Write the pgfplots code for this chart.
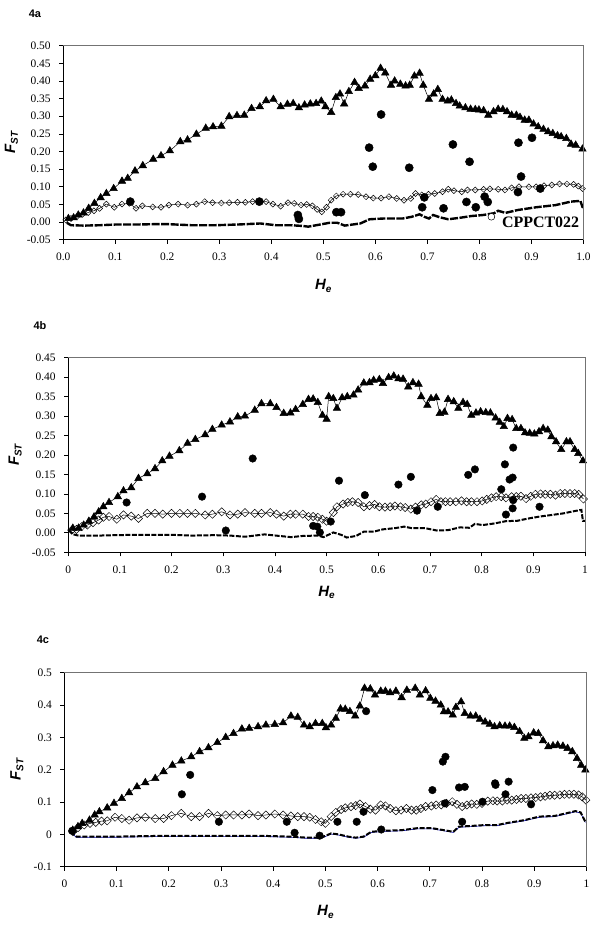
\documentclass[border=0pt]{standalone}
\usepackage{pgfplots}
\pgfplotsset{compat=1.18}
\usepackage{fontspec}
\setmainfont{Liberation Serif}
\newfontfamily\arial{Liberation Sans}
\newcommand{\FST}{{\arial\fontsize{15}{16}\selectfont\bfseries\itshape F\raisebox{-0.35ex}{\fontsize{10}{10}\selectfont ST}}}
\newcommand{\He}{{\arial\fontsize{15}{16}\selectfont\bfseries\itshape H\raisebox{-0.35ex}{\fontsize{10}{10}\selectfont e}}}
\pgfplotsset{
  fstaxis/.style={
    scale only axis, clip=false,
    xmin=0, xmax=1,
    axis x line*=bottom, axis y line*=left,
    axis line style={black, line width=0.7bp},
    tick align=outside, major tick length=4bp,
    tick style={black, line width=0.7bp},
    xtick={0,0.1,0.2,0.3,0.4,0.5,0.6,0.7,0.8,0.9,1},
    ticklabel style={font=\fontsize{11.5}{12}\selectfont},
    xticklabel style={yshift=-6bp},
    yticklabel style={xshift=-5bp},
    xlabel={\He}, ylabel={\FST},
    after end axis/.code={\draw[black!55, line width=0.8bp] (rel axis cs:0,1) -- (rel axis cs:1,1) -- (rel axis cs:1,0);},
  },
  tri/.style={black, line width=0.5bp, mark=triangle*, mark size=4.3bp, mark options={solid, fill=black}},
  dia/.style={black, line width=0.5bp, mark=square, mark options={solid, rotate=45, fill=white, line width=0.5bp}},
  low/.style={black, line width=2bp, dash pattern=on 8bp off 1.5bp},
  dots/.style={only marks, mark=*, mark size=4.1bp, mark options={fill=black, draw=black}},
}
\begin{document}
\begin{tikzpicture}
\path[use as bounding box] (0,0) rectangle (600bp,-925bp);
\node[font=\arial\fontsize{11}{12}\selectfont\bfseries] at (35bp,-14bp) {4a};
\node[font=\arial\fontsize{11}{12}\selectfont\bfseries] at (40bp,-326bp) {4b};
\node[font=\arial\fontsize{11}{12}\selectfont\bfseries] at (43bp,-640bp) {4c};

% ---------------- 4a ----------------
\begin{axis}[fstaxis, at={(63.2bp,-239.7bp)}, anchor=south west,
  width=520.3bp, height=194bp, ymin=-0.05, ymax=0.5,
  ytick={-0.05,0,0.05,0.1,0.15,0.2,0.25,0.3,0.35,0.4,0.45,0.5},
  yticklabels={-0.05,0.00,0.05,0.10,0.15,0.20,0.25,0.30,0.35,0.40,0.45,0.50},
  xticklabels={0.0,0.1,0.2,0.3,0.4,0.5,0.6,0.7,0.8,0.9,1.0},
  xlabel style={at={([yshift=-46bp]axis description cs:0.5,0)}, anchor=center},
  ylabel style={at={([xshift=-51.7bp]axis description cs:0,0.5)}, anchor=center}]
\addplot[low, line width=2.4bp] coordinates {(0.007,-0.002)(0.015,-0.009)(0.04,-0.010)(0.07,-0.009)(0.10,-0.007)(0.122,-0.007)(0.14,-0.007)(0.173,-0.006)(0.203,-0.006)(0.247,-0.009)(0.291,-0.009)(0.335,-0.007)(0.379,-0.004)(0.409,-0.009)(0.438,-0.009)(0.46,-0.011)(0.471,-0.013)(0.49,-0.008)(0.512,-0.002)(0.527,-0.002)(0.541,-0.010)(0.571,-0.004)(0.589,0.008)(0.615,0.010)(0.652,0.010)(0.67,0.015)(0.685,0.022)(0.694,0.015)(0.703,0.010)(0.711,0.020)(0.725,0.013)(0.74,0.008)(0.762,0.012)(0.784,0.017)(0.807,0.020)(0.828,0.025)(0.836,0.032)(0.85,0.026)(0.873,0.034)(0.909,0.042)(0.946,0.048)(0.976,0.058)(0.994,0.060)(0.998,0.043)(1.0,0.042)};
\addplot[dia, mark size=2.1bp] coordinates {(0.005,0.006)(0.015,0.010)(0.026,0.015)(0.037,0.022)(0.048,0.027)(0.059,0.032)(0.070,0.039)(0.083,0.051)(0.098,0.042)(0.113,0.051)(0.127,0.053)(0.140,0.039)(0.152,0.046)(0.172,0.043)(0.188,0.042)(0.203,0.048)(0.221,0.051)(0.239,0.048)(0.256,0.051)(0.272,0.058)(0.287,0.055)(0.304,0.054)(0.319,0.055)(0.335,0.056)(0.350,0.056)(0.364,0.058)(0.390,0.058)(0.403,0.051)(0.418,0.045)(0.432,0.055)(0.444,0.053)(0.457,0.048)(0.468,0.050)(0.479,0.046)(0.488,0.036)(0.497,0.029)(0.506,0.042)(0.515,0.062)(0.525,0.074)(0.538,0.079)(0.552,0.079)(0.567,0.078)(0.582,0.072)(0.596,0.068)(0.611,0.068)(0.626,0.072)(0.641,0.067)(0.655,0.062)(0.668,0.067)(0.677,0.081)(0.689,0.077)(0.702,0.079)(0.714,0.081)(0.729,0.086)(0.740,0.093)(0.751,0.089)(0.766,0.086)(0.777,0.091)(0.792,0.091)(0.808,0.093)(0.820,0.094)(0.836,0.093)(0.849,0.091)(0.862,0.097)(0.876,0.100)(0.895,0.100)(0.909,0.100)(0.924,0.103)(0.939,0.105)(0.954,0.108)(0.968,0.108)(0.981,0.107)(0.990,0.102)(0.998,0.095)};
\addplot[tri] coordinates {(0.010,0.010)(0.020,0.012)(0.029,0.020)(0.039,0.026)(0.049,0.039)(0.060,0.053)(0.072,0.069)(0.083,0.081)(0.097,0.095)(0.113,0.116)(0.124,0.124)(0.138,0.145)(0.153,0.160)(0.173,0.178)(0.188,0.188)(0.205,0.202)(0.225,0.228)(0.239,0.233)(0.256,0.249)(0.274,0.266)(0.288,0.270)(0.304,0.272)(0.319,0.299)(0.334,0.302)(0.348,0.303)(0.362,0.322)(0.378,0.327)(0.390,0.344)(0.404,0.348)(0.418,0.327)(0.431,0.334)(0.442,0.336)(0.453,0.324)(0.464,0.332)(0.475,0.335)(0.486,0.336)(0.496,0.343)(0.504,0.327)(0.515,0.311)(0.524,0.353)(0.532,0.363)(0.540,0.335)(0.549,0.370)(0.560,0.396)(0.568,0.379)(0.580,0.386)(0.590,0.405)(0.600,0.415)(0.610,0.436)(0.619,0.423)(0.630,0.388)(0.637,0.400)(0.648,0.391)(0.658,0.386)(0.666,0.388)(0.675,0.414)(0.685,0.422)(0.692,0.388)(0.703,0.348)(0.712,0.363)(0.720,0.376)(0.729,0.348)(0.739,0.343)(0.746,0.346)(0.755,0.336)(0.762,0.329)(0.773,0.324)(0.783,0.320)(0.792,0.319)(0.799,0.318)(0.808,0.316)(0.817,0.303)(0.827,0.313)(0.836,0.320)(0.845,0.319)(0.853,0.313)(0.862,0.303)(0.871,0.303)(0.878,0.297)(0.887,0.289)(0.895,0.289)(0.904,0.278)(0.913,0.270)(0.923,0.263)(0.932,0.256)(0.941,0.251)(0.950,0.245)(0.957,0.242)(0.967,0.237)(0.976,0.221)(0.985,0.218)(0.998,0.207)};
\addplot[dots] coordinates {(0.129,0.058)(0.377,0.058)(0.451,0.020)(0.453,0.009)(0.525,0.028)(0.534,0.028)(0.588,0.211)(0.611,0.305)(0.595,0.157)(0.665,0.154)(0.690,0.042)(0.694,0.070)(0.731,0.039)(0.749,0.220)(0.775,0.057)(0.781,0.171)(0.793,0.042)(0.810,0.072)(0.816,0.057)(0.874,0.085)(0.875,0.225)(0.880,0.129)(0.901,0.239)(0.917,0.095)};
\addplot[only marks, mark=*, mark size=3.4bp, mark options={fill=white, draw=black, line width=0.5bp}] coordinates {(0.823,0.015)};
\node[anchor=west, font=\fontsize{16}{17}\selectfont\bfseries, inner sep=0pt] at (axis cs:0.843,-0.002) {CPPCT022};
\end{axis}

% ---------------- 4b ----------------
\begin{axis}[fstaxis, at={(68.2bp,-552.3bp)}, anchor=south west,
  width=516.8bp, height=194.6bp, ymin=-0.05, ymax=0.45,
  ytick={-0.05,0,0.05,0.1,0.15,0.2,0.25,0.3,0.35,0.4,0.45},
  yticklabels={-0.05,0.00,0.05,0.10,0.15,0.20,0.25,0.30,0.35,0.40,0.45},
  xticklabels={0,0.1,0.2,0.3,0.4,0.5,0.6,0.7,0.8,0.9,1},
  xlabel style={at={([yshift=-40bp]axis description cs:0.5,0)}, anchor=center},
  ylabel style={at={([xshift=-53bp]axis description cs:0,0.5)}, anchor=center}]
\addplot[low, line width=2bp, dash pattern=on 5bp off 1.5bp] coordinates {(0.001,0.007)(0.01,-0.004)(0.02,-0.007)(0.06,-0.007)(0.09,-0.006)(0.128,-0.005)(0.165,-0.005)(0.2,-0.005)(0.239,-0.007)(0.283,-0.006)(0.313,-0.007)(0.342,-0.010)(0.38,-0.004)(0.409,-0.008)(0.431,-0.011)(0.454,-0.008)(0.483,-0.007)(0.494,-0.011)(0.513,0.001)(0.528,-0.005)(0.539,-0.012)(0.557,-0.008)(0.572,0.003)(0.591,0.003)(0.609,0.009)(0.632,0.012)(0.65,0.016)(0.665,0.012)(0.691,0.012)(0.713,0.006)(0.735,0.007)(0.758,0.014)(0.776,0.013)(0.787,0.023)(0.802,0.020)(0.824,0.024)(0.847,0.030)(0.869,0.031)(0.891,0.037)(0.913,0.042)(0.936,0.046)(0.958,0.050)(0.98,0.056)(0.993,0.059)(0.996,0.031)(1.0,0.031)};
\addplot[dia, mark size=2.9bp] coordinates {(0.007,0.007)(0.016,0.009)(0.026,0.016)(0.037,0.020)(0.048,0.026)(0.059,0.033)(0.068,0.040)(0.079,0.042)(0.094,0.035)(0.107,0.046)(0.122,0.043)(0.136,0.037)(0.153,0.050)(0.168,0.050)(0.183,0.048)(0.200,0.050)(0.216,0.050)(0.231,0.050)(0.246,0.050)(0.265,0.046)(0.279,0.048)(0.297,0.054)(0.313,0.046)(0.328,0.048)(0.342,0.052)(0.361,0.050)(0.374,0.050)(0.391,0.052)(0.403,0.048)(0.417,0.043)(0.430,0.048)(0.440,0.048)(0.454,0.048)(0.465,0.042)(0.474,0.042)(0.483,0.040)(0.492,0.035)(0.500,0.030)(0.513,0.052)(0.520,0.067)(0.532,0.074)(0.541,0.078)(0.550,0.080)(0.561,0.078)(0.572,0.067)(0.583,0.070)(0.593,0.073)(0.602,0.067)(0.613,0.066)(0.623,0.067)(0.632,0.069)(0.643,0.067)(0.652,0.065)(0.663,0.061)(0.672,0.066)(0.683,0.072)(0.692,0.074)(0.702,0.080)(0.712,0.086)(0.721,0.080)(0.730,0.080)(0.739,0.080)(0.750,0.080)(0.761,0.082)(0.771,0.080)(0.780,0.080)(0.791,0.080)(0.801,0.082)(0.810,0.086)(0.819,0.090)(0.828,0.093)(0.838,0.093)(0.847,0.090)(0.858,0.093)(0.867,0.093)(0.876,0.094)(0.886,0.088)(0.895,0.094)(0.904,0.099)(0.914,0.100)(0.923,0.099)(0.933,0.099)(0.943,0.097)(0.952,0.101)(0.961,0.101)(0.971,0.101)(0.980,0.101)(0.988,0.099)(0.997,0.087)};
\addplot[tri] coordinates {(0.009,0.012)(0.020,0.012)(0.030,0.020)(0.040,0.030)(0.050,0.041)(0.059,0.054)(0.068,0.067)(0.079,0.078)(0.096,0.093)(0.107,0.108)(0.122,0.116)(0.136,0.140)(0.153,0.152)(0.168,0.165)(0.182,0.185)(0.196,0.197)(0.215,0.211)(0.231,0.230)(0.246,0.240)(0.265,0.252)(0.279,0.266)(0.297,0.277)(0.313,0.285)(0.328,0.298)(0.342,0.300)(0.361,0.315)(0.374,0.332)(0.391,0.332)(0.403,0.322)(0.417,0.307)(0.430,0.308)(0.440,0.317)(0.454,0.330)(0.465,0.343)(0.474,0.344)(0.483,0.335)(0.492,0.302)(0.500,0.292)(0.504,0.350)(0.513,0.345)(0.520,0.320)(0.530,0.347)(0.540,0.350)(0.552,0.354)(0.561,0.367)(0.572,0.385)(0.583,0.386)(0.591,0.392)(0.602,0.394)(0.609,0.384)(0.620,0.399)(0.630,0.403)(0.639,0.396)(0.648,0.395)(0.658,0.375)(0.667,0.386)(0.678,0.382)(0.683,0.350)(0.695,0.328)(0.702,0.345)(0.712,0.347)(0.719,0.307)(0.728,0.310)(0.735,0.343)(0.746,0.337)(0.755,0.320)(0.764,0.335)(0.772,0.330)(0.780,0.302)(0.789,0.308)(0.798,0.311)(0.808,0.309)(0.817,0.308)(0.827,0.295)(0.835,0.284)(0.843,0.273)(0.850,0.294)(0.859,0.291)(0.867,0.268)(0.876,0.268)(0.884,0.257)(0.893,0.256)(0.902,0.254)(0.911,0.260)(0.919,0.268)(0.928,0.264)(0.935,0.247)(0.944,0.234)(0.954,0.214)(0.964,0.234)(0.971,0.234)(0.980,0.214)(0.987,0.204)(0.996,0.185)};
\addplot[dots, mark size=3.8bp] coordinates {(0.113,0.078)(0.259,0.093)(0.305,0.006)(0.357,0.191)(0.474,0.018)(0.482,0.016)(0.487,0.001)(0.508,0.029)(0.524,0.134)(0.574,0.097)(0.639,0.124)(0.663,0.144)(0.675,0.057)(0.715,0.067)(0.774,0.149)(0.787,0.163)(0.838,0.112)(0.845,0.176)(0.847,0.047)(0.854,0.137)(0.860,0.142)(0.860,0.063)(0.861,0.219)(0.861,0.084)(0.912,0.067)};
\end{axis}

% ---------------- 4c ----------------
\begin{axis}[fstaxis, at={(64.4bp,-866.7bp)}, anchor=south west,
  width=522bp, height=194bp, ymin=-0.1, ymax=0.5,
  ytick={-0.1,0,0.1,0.2,0.3,0.4,0.5},
  yticklabels={-0.1,0,0.1,0.2,0.3,0.4,0.5},
  xticklabels={0,0.1,0.2,0.3,0.4,0.5,0.6,0.7,0.8,0.9,1},
  xlabel style={at={([yshift=-45bp]axis description cs:0.5,0)}, anchor=center},
  ylabel style={at={([xshift=-47.4bp]axis description cs:0,0.5)}, anchor=center}]
\addplot[blue!70!black, line width=0.6bp, forget plot] coordinates {(0.012,0.006)(0.023,-0.009)(0.06,-0.009)(0.097,-0.009)(0.17,-0.007)(0.243,-0.007)(0.316,-0.007)(0.39,-0.007)(0.434,-0.009)(0.463,-0.012)(0.492,-0.012)(0.511,0.001)(0.525,-0.002)(0.544,-0.009)(0.558,-0.012)(0.573,-0.009)(0.588,0.006)(0.61,0.009)(0.646,0.011)(0.675,0.017)(0.705,0.017)(0.727,0.011)(0.745,0.006)(0.756,0.022)(0.778,0.024)(0.807,0.027)(0.829,0.027)(0.851,0.034)(0.881,0.042)(0.91,0.053)(0.939,0.055)(0.961,0.063)(0.979,0.070)(0.989,0.066)(0.998,0.037)};
\addplot[low, line width=2bp, dash pattern=on 5bp off 1.8bp] coordinates {(0.012,0.008)(0.023,-0.007)(0.06,-0.007)(0.097,-0.007)(0.17,-0.005)(0.243,-0.005)(0.316,-0.005)(0.39,-0.005)(0.434,-0.007)(0.463,-0.010)(0.492,-0.010)(0.511,0.003)(0.525,0.000)(0.544,-0.007)(0.558,-0.010)(0.573,-0.007)(0.588,0.008)(0.61,0.011)(0.646,0.013)(0.675,0.019)(0.705,0.019)(0.727,0.013)(0.745,0.008)(0.756,0.024)(0.778,0.026)(0.807,0.029)(0.829,0.029)(0.851,0.036)(0.881,0.044)(0.91,0.055)(0.939,0.057)(0.961,0.065)(0.979,0.072)(0.989,0.068)(0.998,0.039)};
\addplot[dia, mark size=2.9bp] coordinates {(0.016,0.008)(0.026,0.021)(0.038,0.029)(0.049,0.034)(0.060,0.037)(0.071,0.041)(0.082,0.042)(0.097,0.053)(0.110,0.049)(0.124,0.044)(0.139,0.051)(0.155,0.053)(0.174,0.049)(0.190,0.049)(0.205,0.058)(0.224,0.065)(0.243,0.055)(0.259,0.055)(0.276,0.065)(0.293,0.058)(0.309,0.060)(0.324,0.060)(0.340,0.060)(0.354,0.063)(0.371,0.058)(0.386,0.060)(0.403,0.063)(0.419,0.060)(0.434,0.057)(0.447,0.055)(0.459,0.055)(0.470,0.053)(0.481,0.046)(0.492,0.039)(0.500,0.034)(0.511,0.055)(0.520,0.068)(0.530,0.077)(0.538,0.082)(0.549,0.086)(0.558,0.089)(0.566,0.094)(0.577,0.086)(0.586,0.078)(0.596,0.075)(0.606,0.091)(0.615,0.088)(0.624,0.080)(0.635,0.073)(0.645,0.075)(0.655,0.080)(0.665,0.075)(0.674,0.075)(0.683,0.080)(0.692,0.086)(0.703,0.088)(0.712,0.091)(0.722,0.091)(0.732,0.096)(0.743,0.101)(0.752,0.093)(0.762,0.086)(0.771,0.091)(0.780,0.094)(0.790,0.093)(0.800,0.096)(0.811,0.103)(0.821,0.104)(0.829,0.103)(0.839,0.103)(0.848,0.106)(0.857,0.106)(0.866,0.108)(0.875,0.111)(0.884,0.111)(0.894,0.113)(0.903,0.114)(0.912,0.116)(0.921,0.118)(0.930,0.121)(0.939,0.121)(0.949,0.122)(0.958,0.124)(0.967,0.124)(0.976,0.124)(0.985,0.122)(0.992,0.116)(0.999,0.106)};
\addplot[tri] coordinates {(0.016,0.013)(0.026,0.024)(0.034,0.034)(0.048,0.044)(0.058,0.060)(0.067,0.070)(0.082,0.082)(0.095,0.096)(0.110,0.111)(0.124,0.129)(0.139,0.147)(0.155,0.160)(0.174,0.173)(0.190,0.194)(0.207,0.214)(0.224,0.227)(0.243,0.240)(0.259,0.256)(0.276,0.268)(0.293,0.284)(0.309,0.300)(0.324,0.312)(0.340,0.326)(0.354,0.328)(0.371,0.333)(0.386,0.338)(0.403,0.340)(0.419,0.345)(0.434,0.366)(0.447,0.362)(0.459,0.338)(0.470,0.333)(0.481,0.343)(0.494,0.343)(0.501,0.330)(0.511,0.338)(0.520,0.359)(0.529,0.388)(0.538,0.387)(0.547,0.380)(0.557,0.366)(0.566,0.397)(0.575,0.452)(0.586,0.450)(0.595,0.431)(0.606,0.443)(0.615,0.443)(0.624,0.438)(0.635,0.443)(0.646,0.423)(0.656,0.446)(0.672,0.452)(0.681,0.431)(0.692,0.444)(0.701,0.421)(0.711,0.412)(0.721,0.400)(0.727,0.379)(0.735,0.379)(0.744,0.369)(0.750,0.393)(0.760,0.410)(0.767,0.374)(0.778,0.366)(0.788,0.366)(0.796,0.356)(0.806,0.348)(0.815,0.341)(0.824,0.333)(0.834,0.336)(0.844,0.335)(0.853,0.335)(0.862,0.331)(0.872,0.318)(0.881,0.297)(0.889,0.302)(0.899,0.314)(0.908,0.312)(0.917,0.290)(0.927,0.271)(0.936,0.274)(0.945,0.276)(0.955,0.273)(0.964,0.266)(0.973,0.256)(0.982,0.235)(0.990,0.214)(0.998,0.199)};
\addplot[dots, mark size=3.8bp] coordinates {(0.015,0.011)(0.225,0.124)(0.241,0.184)(0.296,0.039)(0.426,0.039)(0.441,0.005)(0.489,-0.004)(0.523,0.039)(0.560,0.039)(0.573,0.070)(0.578,0.381)(0.607,0.015)(0.705,0.137)(0.725,0.225)(0.730,0.240)(0.729,0.096)(0.756,0.145)(0.767,0.147)(0.762,0.039)(0.801,0.101)(0.825,0.158)(0.826,0.153)(0.845,0.124)(0.851,0.163)(0.894,0.093)};
\end{axis}
\end{tikzpicture}
\end{document}
